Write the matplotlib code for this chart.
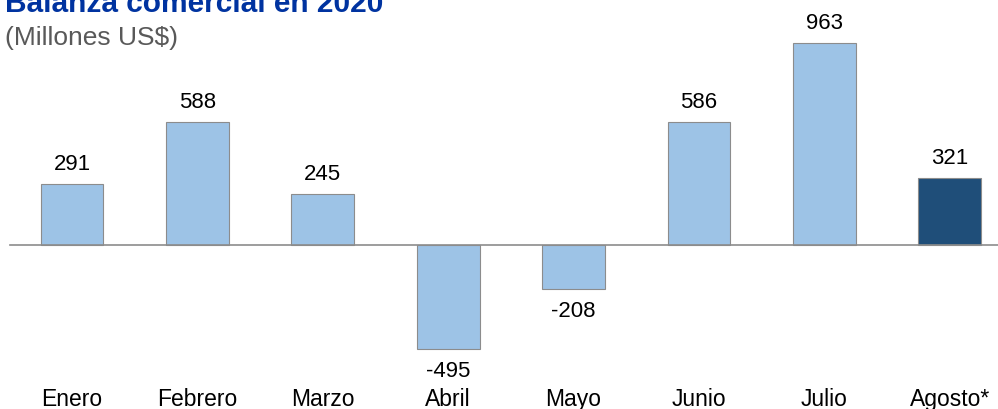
import matplotlib
matplotlib.use("Agg")
import matplotlib.pyplot as plt

plt.rcParams['font.family'] = ['Liberation Sans', 'DejaVu Sans']

months = ["Enero", "Febrero", "Marzo", "Abril", "Mayo", "Junio", "Julio", "Agosto*"]
balance = [291, 588, 245, -495, -208, 586, 963, 321]
colors = ["#9DC3E6"] * 7 + ["#1F4E79"]

fig = plt.figure(figsize=(9.98, 4.1), dpi=100)
ax = fig.add_axes([0, 0, 1, 1])
x = list(range(len(months)))

ax.bar(x, balance, width=0.5, color=colors, edgecolor="#8c8c8c", linewidth=0.8, zorder=2)
ax.set_xlim(-0.574, 7.384)
ax.set_ylim(-781.7, 1172.5)
ax.axhline(0, xmin=0.01, xmax=1, color="#8c8c8c", linewidth=1.2, zorder=3)

for xi, v in zip(x, balance):
    if v >= 0:
        ax.annotate(str(v), (xi, v), xytext=(0, 7), textcoords="offset points",
                    ha="center", va="bottom", fontsize=16, color="#000000")
    else:
        ax.annotate(str(v), (xi, v), xytext=(0, -8), textcoords="offset points",
                    ha="center", va="top", fontsize=16, color="#000000")
    ax.text(xi, -781.7 + 4 / 0.2098, months[xi], ha="center", va="baseline",
            fontsize=16.5, color="#000000")

ax.axis("off")
fig.text(0.005, 1 - 12 / 410, "Balanza comercial en 2020", fontsize=21.5, fontweight="bold",
         color="#0033A0", ha="left", va="baseline")
fig.text(0.005, 1 - 45 / 410, "(Millones US$)", fontsize=19, color="#595959",
         ha="left", va="baseline")

fig.savefig("out.png", dpi=100)
